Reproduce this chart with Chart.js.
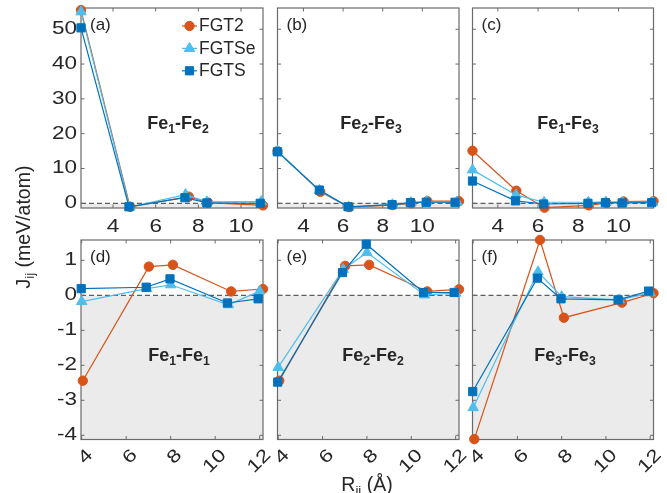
<!DOCTYPE html>
<html>
<head>
<meta charset="utf-8">
<script src="https://cdn.jsdelivr.net/npm/chart.js@4.4.1/dist/chart.umd.min.js"></script>
<style>
  html, body { margin: 0; padding: 0; background: #ffffff; }
  #wrap { position: relative; width: 667px; height: 493px; overflow: hidden; }
  #wrap canvas { position: absolute; left: 0; top: 0; }
</style>
</head>
<body>
<div id="wrap"></div>
<script>
// ---- series, ticks ----
const seriesNames = ['FGT2', 'FGTSe', 'FGTS'];
const xTicksTop = [4, 6, 8, 10];
const xTicksBottom = [4, 6, 8, 10, 12];
const yTicksTop = [0, 10, 20, 30, 40, 50];
const yTicksBottom = [-4, -3, -2, -1, 0, 1];

// ---- Fe1-Fe2 : distance (Å) and exchange J (meV/atom) ----
const rFe12_FGT2  = [2.5, 4.8, 7.55, 8.45, 11.03];
const rFe12_FGTSe = [2.5, 4.78, 7.4, 8.4, 10.95];
const rFe12_FGTS  = [2.5, 4.75, 7.37, 8.4, 10.9];
const jFe12_FGT2  = [55.5, -1.0, 1.9, 0.2, -0.6];
const jFe12_FGTSe = [55.0, -1.1, 2.5, 0.4, 0.5];
const jFe12_FGTS  = [50.4, -1.0, 1.6, 0.1, 0.0];

// ---- Fe2-Fe3 ----
const rFe23_FGT2  = [2.69, 4.85, 6.3, 8.5, 9.45, 10.25, 11.85];
const rFe23_FGTSe = [2.69, 4.81, 6.28, 8.49, 9.42, 10.22, 11.75];
const rFe23_FGTS  = [2.69, 4.8, 6.26, 8.47, 9.4, 10.2, 11.65];
const jFe23_FGT2  = [15.0, 3.3, -1.1, -0.5, 0.0, 0.6, 0.6];
const jFe23_FGTSe = [15.0, 3.7, -1.1, -0.4, 0.2, 0.5, 0.4];
const jFe23_FGTS  = [14.8, 3.8, -1.0, -0.4, 0.2, 0.3, 0.3];

// ---- Fe1-Fe3 ----
const rFe13_FGT2  = [2.74, 4.92, 6.32, 8.52, 9.4, 10.25, 11.74];
const rFe13_FGTSe = [2.74, 4.9, 6.3, 8.5, 9.37, 10.2, 11.7];
const rFe13_FGTS  = [2.74, 4.88, 6.28, 8.48, 9.35, 10.18, 11.65];
const jFe13_FGT2  = [15.1, 3.6, -1.25, -0.6, 0.1, 0.5, 0.6];
const jFe13_FGTSe = [9.6, 2.4, 0.3, 0.3, 0.4, 0.3, 0.3];
const jFe13_FGTS  = [6.4, 0.7, -0.2, 0.0, 0.2, 0.1, 0.2];

// ---- in-plane shells (same sublattice) ----
const rPlane_FGT2  = [4.05, 7.02, 8.1, 10.72, 12.15];
const rPlane_FGTSe = [4.0, 6.93, 8.0, 10.6, 12.0];
const rPlane_FGTS  = [3.98, 6.9, 7.97, 10.55, 11.93];

const jFe11_FGT2  = [-2.44, 0.82, 0.87, 0.11, 0.18];
const jFe11_FGTSe = [-0.18, 0.19, 0.30, -0.27, 0.12];
const jFe11_FGTS  = [0.19, 0.23, 0.47, -0.22, -0.10];

const jFe22_FGT2  = [-2.44, 0.84, 0.87, 0.11, 0.17];
const jFe22_FGTSe = [-2.06, 0.74, 1.22, 0.01, 0.06];
const jFe22_FGTS  = [-2.48, 0.65, 1.46, 0.08, 0.08];

const jFe33_FGT2  = [-4.11, 1.58, -0.64, -0.21, 0.06];
const jFe33_FGTSe = [-3.21, 0.67, -0.04, -0.13, 0.07];
const jFe33_FGTS  = [-2.75, 0.49, -0.10, -0.13, 0.12];

// ---- styling ----
const FONT = '"Liberation Sans", Arial, Helvetica, sans-serif';
const TEXT = '#262626';
const FRAME = '#6a6a6a';
const TICK_FONT = `18px ${FONT}`;
const TICK_SX = 1.25;          // wide tick numerals
const STYLES = [
  { color: '#D95319', shape: 'circle',   radius: 4.7 },
  { color: '#4DBEEE', shape: 'triangle', radius: 6.0 },
  { color: '#0072BD', shape: 'rect',     radius: 5.8 }
];

function drawMarker(ctx, shape, x, y, r, color) {
  ctx.save();
  ctx.fillStyle = color; ctx.strokeStyle = color; ctx.lineWidth = 1;
  ctx.beginPath();
  if (shape === 'circle') {
    ctx.arc(x, y, r, 0, Math.PI * 2);
  } else if (shape === 'triangle') {
    for (let k = 0; k < 3; k++) {
      const a = k * 2 * Math.PI / 3;
      const px = x + r * Math.sin(a), py = y - r * Math.cos(a);
      if (k === 0) ctx.moveTo(px, py); else ctx.lineTo(px, py);
    }
    ctx.closePath();
  } else {
    const s = Math.SQRT1_2 * r;
    ctx.rect(x - s, y - s, 2 * s, 2 * s);
  }
  ctx.fill(); ctx.stroke();
  ctx.restore();
}

// text with subscripts: parts = [[text, isSub], ...]
function drawRich(ctx, parts, x, y, size, weight, align) {
  const sub = size * 0.68;
  let w = 0;
  for (const [t, s] of parts) {
    ctx.font = `${weight} ${s ? sub : size}px ${FONT}`;
    w += ctx.measureText(t).width;
  }
  let cx = align === 'center' ? x - w / 2 : x;
  ctx.textAlign = 'left';
  ctx.textBaseline = 'alphabetic';
  for (const [t, s] of parts) {
    ctx.font = `${weight} ${s ? sub : size}px ${FONT}`;
    ctx.fillText(t, cx, s ? y + size * 0.22 : y);
    cx += ctx.measureText(t).width;
  }
}

// tick numeral, optionally rotated
function drawTickText(ctx, text, x, y, align, angle) {
  ctx.save();
  ctx.translate(x, y);
  if (angle) ctx.rotate(angle);
  ctx.scale(TICK_SX, 1);
  ctx.font = TICK_FONT;
  ctx.fillStyle = TEXT;
  ctx.textAlign = align;
  ctx.textBaseline = 'middle';
  ctx.fillText(text, 0, 0);
  ctx.restore();
}

const TOP_ROW = [8, 208];
const BOT_ROW = [240, 439.5];
const COLS = [[81, 263], [277.5, 459], [472.5, 653.5]];

const panels = [
  { tag: '(a)', col: 0, row: TOP_ROW, x: [2.5, 11.03], y: [-1.35, 56.1], xt: xTicksTop, yt: yTicksTop,
    flatX: true, yLabels: true, legend: true,
    title: [['Fe', 0], ['1', 1], ['-Fe', 0], ['2', 1]], tx: 178,
    R: [rFe12_FGT2, rFe12_FGTSe, rFe12_FGTS], J: [jFe12_FGT2, jFe12_FGTSe, jFe12_FGTS] },
  { tag: '(b)', col: 1, row: TOP_ROW, x: [2.69, 11.85], y: [-1.35, 56.1], xt: xTicksTop, yt: yTicksTop,
    flatX: true, yLabels: false,
    title: [['Fe', 0], ['2', 1], ['-Fe', 0], ['3', 1]], tx: 371,
    R: [rFe23_FGT2, rFe23_FGTSe, rFe23_FGTS], J: [jFe23_FGT2, jFe23_FGTSe, jFe23_FGTS] },
  { tag: '(c)', col: 2, row: TOP_ROW, x: [2.74, 11.74], y: [-1.35, 56.1], xt: xTicksTop, yt: yTicksTop,
    flatX: true, yLabels: false,
    title: [['Fe', 0], ['1', 1], ['-Fe', 0], ['3', 1]], tx: 568,
    R: [rFe13_FGT2, rFe13_FGTSe, rFe13_FGTS], J: [jFe13_FGT2, jFe13_FGTSe, jFe13_FGTS] },
  { tag: '(d)', col: 0, row: BOT_ROW, x: [3.97, 12.15], y: [-4.12, 1.58], xt: xTicksBottom, yt: yTicksBottom,
    flatX: false, yLabels: true,
    title: [['Fe', 0], ['1', 1], ['-Fe', 0], ['1', 1]], tx: 179,
    R: [rPlane_FGT2, rPlane_FGTSe, rPlane_FGTS], J: [jFe11_FGT2, jFe11_FGTSe, jFe11_FGTS] },
  { tag: '(e)', col: 1, row: BOT_ROW, x: [3.97, 12.15], y: [-4.12, 1.58], xt: xTicksBottom, yt: yTicksBottom,
    flatX: false, yLabels: false, axisTitles: true,
    title: [['Fe', 0], ['2', 1], ['-Fe', 0], ['2', 1]], tx: 373,
    R: [rPlane_FGT2, rPlane_FGTSe, rPlane_FGTS], J: [jFe22_FGT2, jFe22_FGTSe, jFe22_FGTS] },
  { tag: '(f)', col: 2, row: BOT_ROW, x: [3.97, 12.15], y: [-4.12, 1.58], xt: xTicksBottom, yt: yTicksBottom,
    flatX: false, yLabels: false,
    title: [['Fe', 0], ['3', 1], ['-Fe', 0], ['3', 1]], tx: 565,
    R: [rPlane_FGT2, rPlane_FGTSe, rPlane_FGTS], J: [jFe33_FGT2, jFe33_FGTSe, jFe33_FGTS] }
];

function panelPlugin(p) {
  return {
    id: 'panelDecor',
    beforeDatasetsDraw(chart) {
      const { ctx, chartArea: a, scales: { x, y } } = chart;
      ctx.save();
      // negative-J shading and zero line
      const y0 = y.getPixelForValue(0);
      ctx.fillStyle = '#ebebeb';
      ctx.fillRect(a.left, y0, a.right - a.left, a.bottom - y0);
      ctx.strokeStyle = '#3a3a3a';
      ctx.lineWidth = 1;
      ctx.setLineDash([5, 3]);
      ctx.beginPath(); ctx.moveTo(a.left, y0); ctx.lineTo(a.right, y0); ctx.stroke();
      ctx.setLineDash([]);
      // box
      ctx.strokeStyle = FRAME;
      ctx.lineWidth = 1.2;
      ctx.strokeRect(a.left, a.top, a.right - a.left, a.bottom - a.top);
      // inward ticks on all four sides
      ctx.lineWidth = 1;
      ctx.beginPath();
      for (const t of x.ticks) {
        const px = x.getPixelForValue(t.value);
        ctx.moveTo(px, a.bottom); ctx.lineTo(px, a.bottom - 3.5);
        ctx.moveTo(px, a.top); ctx.lineTo(px, a.top + 3.5);
      }
      for (const t of y.ticks) {
        const py = y.getPixelForValue(t.value);
        ctx.moveTo(a.left, py); ctx.lineTo(a.left + 3.5, py);
        ctx.moveTo(a.right, py); ctx.lineTo(a.right - 3.5, py);
      }
      ctx.stroke();
      ctx.restore();
    },
    afterDraw(chart) {
      const { ctx, chartArea: a, scales: { x, y } } = chart;
      ctx.save();
      ctx.fillStyle = TEXT;
      // tick numerals
      if (p.yLabels) {
        for (const t of y.ticks) drawTickText(ctx, String(t.value), a.left - 4, y.getPixelForValue(t.value), 'right', 0);
      }
      for (const t of x.ticks) {
        const px = x.getPixelForValue(t.value);
        if (p.flatX) drawTickText(ctx, String(t.value), px, a.bottom + 19.5, 'center', 0);
        else drawTickText(ctx, String(t.value), px + 8.5, a.bottom + 13, 'right', -Math.PI / 4);
      }
      // panel tag
      ctx.fillStyle = TEXT;
      ctx.font = `17px ${FONT}`;
      ctx.textAlign = 'left'; ctx.textBaseline = 'alphabetic';
      ctx.fillText(p.tag, a.left + 9, a.top + 22);
      // pair title
      drawRich(ctx, p.title, p.tx, a.top + 121, 18, 'bold', 'center');
      // legend
      if (p.legend) {
        ctx.font = `17.5px ${FONT}`;
        ctx.textAlign = 'left'; ctx.textBaseline = 'middle';
        seriesNames.forEach((name, i) => {
          const s = STYLES[i];
          const ly = 26 + i * 22.4;
          ctx.strokeStyle = s.color; ctx.lineWidth = 1.2;
          ctx.beginPath(); ctx.moveTo(182, ly); ctx.lineTo(197, ly); ctx.stroke();
          drawMarker(ctx, s.shape, 189.5, ly, s.radius, s.color);
          ctx.fillStyle = TEXT;
          ctx.fillText(name, 199, ly + 0.5);
        });
      }
      // shared axis titles
      if (p.axisTitles) {
        ctx.fillStyle = TEXT;
        drawRich(ctx, [['R', 0], ['ij', 1], [' (Å)', 0]], 367, 491, 19.5, 'normal', 'center');
        ctx.save();
        ctx.translate(30, 227);
        ctx.rotate(-Math.PI / 2);
        drawRich(ctx, [['J', 0], ['ij', 1], [' (meV/atom)', 0]], 0, 0, 19.5, 'normal', 'center');
        ctx.restore();
      }
      ctx.restore();
    }
  };
}

const wrap = document.getElementById('wrap');

panels.forEach(p => {
  const canvas = document.createElement('canvas');
  canvas.width = 667; canvas.height = 493;
  wrap.appendChild(canvas);
  const [left, right] = COLS[p.col];
  const [top, bottom] = p.row;
  new Chart(canvas, {
    type: 'line',
    data: {
      datasets: seriesNames.map((name, i) => ({
        label: name,
        data: p.R[i].map((r, k) => ({ x: r, y: p.J[i][k] })),
        borderColor: STYLES[i].color,
        backgroundColor: STYLES[i].color,
        pointStyle: STYLES[i].shape,
        pointRadius: STYLES[i].radius,
        pointBorderWidth: 1,
        borderWidth: 1.2,
        tension: 0,
        clip: false,
        order: 3 - i
      }))
    },
    options: {
      responsive: false,
      animation: false,
      devicePixelRatio: 1,
      events: [],
      layout: {
        autoPadding: false,
        padding: { left: left, top: top, right: 667 - right, bottom: 493 - bottom }
      },
      plugins: { legend: { display: false }, tooltip: { enabled: false } },
      scales: {
        x: {
          type: 'linear', min: p.x[0], max: p.x[1],
          grid: { display: false, drawTicks: false },
          border: { display: false },
          afterBuildTicks: s => { s.ticks = p.xt.filter(v => v >= p.x[0] && v <= p.x[1]).map(v => ({ value: v })); },
          afterFit: s => { s.height = 0; },
          ticks: { display: false }
        },
        y: {
          type: 'linear', min: p.y[0], max: p.y[1],
          grid: { display: false, drawTicks: false },
          border: { display: false },
          afterBuildTicks: s => { s.ticks = p.yt.map(v => ({ value: v })); },
          afterFit: s => { s.width = 0; },
          ticks: { display: false }
        }
      }
    },
    plugins: [panelPlugin(p)]
  });
});
</script>
</body>
</html>
